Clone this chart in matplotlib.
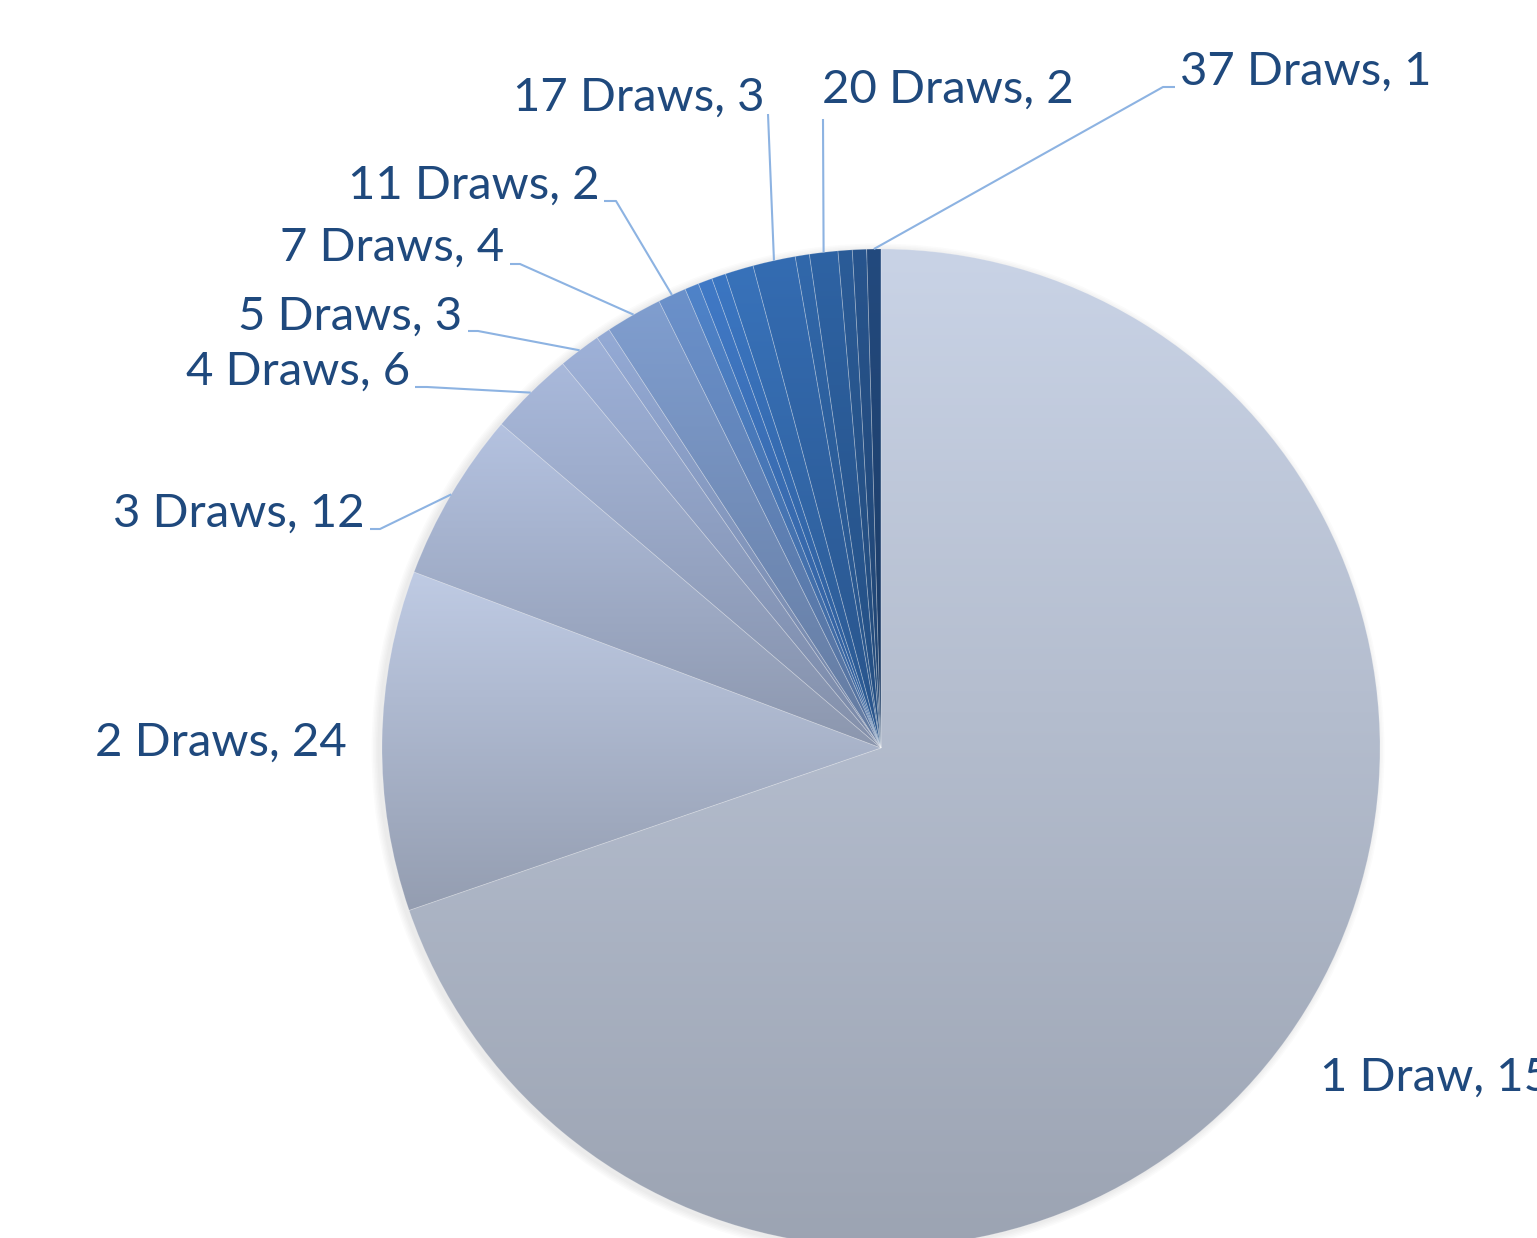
import numpy as np
import matplotlib.pyplot as plt
from matplotlib.colors import to_rgb

# number of draws -> count (pie starts at 12 o'clock, clockwise)
categories = ['1 Draw', '2 Draws', '3 Draws', '4 Draws', '5 Draws', '6 Draws',
              '7 Draws', '11 Draws', '12 Draws', '13 Draws', '14 Draws',
              '15 Draws', '17 Draws', '19 Draws', '20 Draws', '22 Draws',
              '26 Draws', '37 Draws']
counts = [152, 24, 12, 6, 3, 1, 4, 2, 1, 1, 1, 2, 3, 1, 2, 1, 1, 1]
shown = ['1 Draw', '2 Draws', '3 Draws', '4 Draws', '5 Draws', '7 Draws',
         '11 Draws', '17 Draws', '20 Draws', '37 Draws']

top_colors = ['#C9D3E6', '#BFCBE4', '#B4C2E0', '#A9B9DB', '#9EB1D8', '#94AAD5',
              '#809ECF', '#6B91CB', '#4F83C9', '#4079C6', '#3B76C2', '#3872BA',
              '#346CB2', '#3168AB', '#2E63A4', '#2B5C98', '#28558E', '#234A7E']

W, H = 1537, 1238
CX, CY, R = 881, 748, 499


def px(x, y):
    # reference pixel position -> data units (pie centre 0,0, radius 1)
    return (x - CX) / R, (CY - y) / R


# label anchor (left, centre) and leader elbow / tail, in reference pixels
label_pos = {
    '1 Draw': (1320, 1078), '2 Draws': (95, 743), '3 Draws': (113, 514),
    '4 Draws': (186, 372), '5 Draws': (238, 317), '7 Draws': (280, 248),
    '11 Draws': (348, 186), '17 Draws': (513, 98), '20 Draws': (822, 90),
    '37 Draws': (1180, 72),
}
leaders = {
    '3 Draws': [(380, 529), (370, 529)], '4 Draws': [(427, 387), (415, 387)],
    '5 Draws': [(478, 331), (468, 331)], '7 Draws': [(520, 264), (510, 264)],
    '11 Draws': [(616, 201), (604, 201)], '17 Draws': [(768, 114)],
    '20 Draws': [(823, 119)], '37 Draws': [(1163, 87), (1175, 87)],
}

plt.rcParams['font.family'] = ['Lato', 'DejaVu Sans']

fig = plt.figure(figsize=(W / 100, H / 100), dpi=100)
ax = fig.add_axes([0, 0, 1, 1])

# soft shadow, mostly to the lower left
for k in range(5):
    ax.add_patch(plt.Circle((-0.006, -0.004), 1 + 0.003 * (k + 1),
                            color='#000000', alpha=0.015, lw=0, zorder=0))

wedges, _ = ax.pie(counts, startangle=90, counterclock=False, radius=1,
                   center=(0, 0), colors=top_colors,
                   wedgeprops=dict(edgecolor='white', linewidth=0.6))

for w, c in zip(wedges, top_colors):
    top = np.array(to_rgb(c))
    bot = top * 0.775
    bb = w.get_path().transformed(w.get_patch_transform()).get_extents()
    t = np.linspace(0, 1, 256)[:, None, None]
    grad = top[None, None, :] * (1 - t) + bot[None, None, :] * t
    im = ax.imshow(grad, extent=(bb.x0, bb.x1, bb.y0, bb.y1), origin='upper',
                   aspect='auto', interpolation='bicubic', zorder=1)
    im.set_clip_path(w)
    w.set_facecolor('none')
    w.set_edgecolor((1, 1, 1, 0.2))
    w.set_zorder(2)

# labels and leader lines
total = sum(counts)
start = 90.0
for cat, n, w in zip(categories, counts, wedges):
    mid = np.deg2rad(start - 360 * n / total / 2)
    start -= 360 * n / total
    if cat not in shown:
        continue
    lx, ly = px(*label_pos[cat])
    ax.text(lx, ly, f'{cat}, {n}', fontsize=34, color='#1F497D',
            ha='left', va='center', zorder=4)
    if cat in leaders:
        pts = [(np.cos(mid), np.sin(mid))] + [px(*p) for p in leaders[cat]]
        xs, ys = zip(*pts)
        ax.plot(xs, ys, color='#8DB3E2', lw=1.5, zorder=3,
                solid_capstyle='butt')

ax.set_xlim(-CX / R, (W - CX) / R)
ax.set_ylim((CY - H) / R, CY / R)
ax.set_aspect('auto')
ax.axis('off')

plt.savefig('out.png', dpi=100)
